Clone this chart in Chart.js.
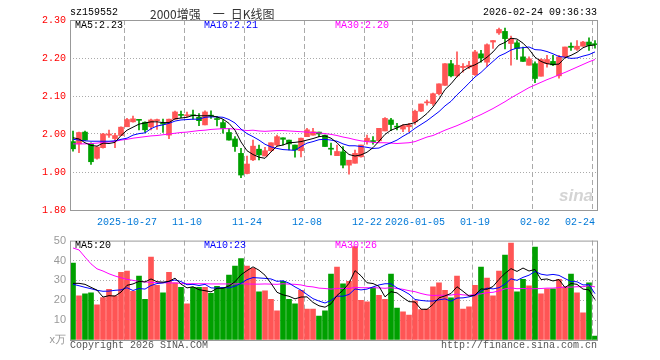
<!DOCTYPE html>
<html>
<head>
<meta charset="utf-8">
<script src="https://cdn.jsdelivr.net/npm/chart.js@4.4.1/dist/chart.umd.min.js"></script>
<style>
body { margin: 0; background: #fff; }
#wrap { position: relative; width: 660px; height: 360px; font-family: "Liberation Mono", monospace; font-size: 10px; }
canvas { position: absolute; left: 0; }
.t { position: absolute; white-space: pre; line-height: 12px; }
</style>
</head>
<body>
<div id="wrap">
  <canvas id="k" width="660" height="230" style="top:0"></canvas>
  <canvas id="v" width="660" height="130" style="top:230px"></canvas>
  <span class="t" style="left:70px;top:7px;color:#000">sz159552</span>
  <span class="t" style="left:150px;top:5px;line-height:14px;font:12px 'Noto Sans CJK SC';color:#333">2000增强&#x3000;一&#x2002;日K线图</span>
  <span class="t" style="right:63px;top:7px;color:#000">2026-02-24 09:36:33</span>
  <span class="t" style="left:75px;top:20px;color:#000">MA5:2.23</span>
  <span class="t" style="left:204px;top:20px;color:#0000ff">MA10:2.21</span>
  <span class="t" style="left:335px;top:20px;color:#ff00ff">MA30:2.20</span>
  <span class="t" style="left:559px;top:186px;font:italic bold 17px 'Liberation Sans';color:#d4d4d4">sina</span>
  <span class="t" style="left:75px;top:240px;color:#000">MA5:20</span>
  <span class="t" style="left:204px;top:240px;color:#0000ff">MA10:23</span>
  <span class="t" style="left:335px;top:240px;color:#ff00ff">MA30:26</span>
  <span class="t" style="left:70px;top:340px;color:#555">Copyright 2026 SINA.COM</span>
  <span class="t" style="right:63px;top:340px;color:#555">http://finance.sina.com.cn</span>
</div>
<script>
// daily bars, 2025-10-14 .. 2026-02-24
const tickIdx = [9, 19, 29, 39, 49, 57, 67, 77, 87];
const tickText = ['2025-10-27', '11-10', '11-24', '12-08', '12-22', '2026-01-05', '01-19', '02-02', '02-24'];

const open = [1.980,1.974,2.005,1.975,1.936,1.964,1.997,1.988,1.996,2.019,
  2.032,2.038,2.031,2.019,2.035,2.028,1.997,2.039,2.050,2.048,
  2.050,2.044,2.024,2.049,2.039,2.030,2.004,1.987,1.949,1.896,
  1.932,1.960,1.942,1.956,1.971,1.990,1.984,1.971,1.956,1.993,
  1.997,2.005,1.997,1.962,1.943,1.953,1.918,1.923,1.940,1.980,
  1.982,1.982,2.008,2.037,2.020,2.013,2.019,2.032,2.060,2.082,
  2.080,2.106,2.128,2.185,2.153,2.175,2.176,2.156,2.211,2.189,
  2.242,2.266,2.270,2.238,2.240,2.203,2.181,2.185,2.152,2.185,
  2.191,2.153,2.203,2.231,2.223,2.231,2.242,2.237];
const high = [2.008,2.005,2.008,1.977,1.967,2.002,2.010,2.002,2.019,2.041,
  2.047,2.038,2.032,2.039,2.039,2.039,2.039,2.060,2.060,2.058,
  2.063,2.054,2.061,2.061,2.046,2.037,2.015,1.993,1.962,1.942,
  1.984,1.971,1.965,1.977,1.997,1.990,1.984,1.971,1.989,2.015,
  2.015,2.005,1.997,1.976,1.971,1.967,1.931,1.958,1.971,1.997,
  1.993,2.015,2.043,2.041,2.028,2.025,2.028,2.063,2.079,2.089,
  2.108,2.132,2.185,2.194,2.216,2.185,2.191,2.220,2.220,2.237,
  2.246,2.279,2.279,2.258,2.246,2.229,2.203,2.190,2.198,2.207,
  2.207,2.207,2.229,2.240,2.246,2.244,2.253,2.246];
const low = [1.955,1.951,1.983,1.920,1.934,1.963,1.991,1.964,1.996,2.019,
  2.031,2.011,2.005,2.011,2.012,2.004,1.988,2.039,2.043,2.045,
  2.039,2.022,2.024,2.041,2.021,2.002,1.984,1.954,1.885,1.895,
  1.930,1.932,1.942,1.954,1.968,1.971,1.958,1.939,1.940,1.993,
  1.997,1.993,1.967,1.945,1.943,1.911,1.894,1.923,1.939,1.973,
  1.973,1.980,2.008,2.009,2.011,2.006,2.006,2.025,2.059,2.076,
  2.075,2.103,2.128,2.150,2.150,2.163,2.172,2.154,2.189,2.178,
  2.225,2.262,2.224,2.181,2.196,2.191,2.181,2.135,2.152,2.176,
  2.180,2.147,2.200,2.220,2.220,2.231,2.220,2.226];
const close = [1.961,2.004,1.984,1.927,1.966,2.000,2.000,1.996,2.018,2.038,
  2.040,2.036,2.011,2.037,2.038,2.026,2.039,2.058,2.049,2.050,
  2.048,2.035,2.058,2.047,2.038,2.015,1.984,1.967,1.892,1.921,
  1.968,1.945,1.956,1.977,1.993,1.986,1.974,1.958,1.989,2.011,
  2.006,2.000,1.967,1.960,1.954,1.918,1.931,1.949,1.971,1.989,
  1.980,2.015,2.041,2.025,2.018,2.022,2.024,2.060,2.079,2.084,
  2.106,2.132,2.185,2.153,2.181,2.178,2.181,2.216,2.200,2.235,
  2.246,2.275,2.251,2.251,2.225,2.191,2.198,2.146,2.196,2.196,
  2.182,2.203,2.229,2.228,2.231,2.242,2.233,2.235];

const ma5 = [1.990,1.987,1.977,1.970,1.968,1.976,1.975,1.978,1.996,2.010,
  2.018,2.026,2.029,2.032,2.032,2.030,2.030,2.040,2.042,2.044,
  2.049,2.048,2.048,2.048,2.045,2.039,2.028,2.010,1.979,1.956,
  1.946,1.939,1.936,1.953,1.968,1.971,1.977,1.978,1.980,1.984,
  1.988,1.993,1.995,1.989,1.977,1.960,1.946,1.942,1.945,1.952,
  1.964,1.981,1.999,2.010,2.016,2.024,2.026,2.030,2.041,2.054,
  2.071,2.092,2.117,2.132,2.151,2.166,2.176,2.182,2.191,2.202,
  2.216,2.234,2.241,2.252,2.250,2.239,2.223,2.202,2.191,2.185,
  2.183,2.184,2.201,2.207,2.215,2.227,2.233,2.234];
const ma10 = [1.986,1.984,1.982,1.981,1.981,1.981,1.981,1.982,1.986,1.989,
  1.997,2.001,2.003,2.014,2.021,2.024,2.028,2.034,2.037,2.038,
  2.039,2.039,2.044,2.045,2.045,2.044,2.038,2.029,2.013,2.001,
  1.993,1.984,1.973,1.966,1.962,1.959,1.958,1.957,1.967,1.976,
  1.980,1.985,1.986,1.984,1.981,1.974,1.969,1.969,1.967,1.965,
  1.962,1.963,1.971,1.977,1.984,1.994,2.003,2.015,2.025,2.035,
  2.047,2.059,2.074,2.086,2.103,2.118,2.134,2.150,2.162,2.177,
  2.191,2.205,2.212,2.221,2.226,2.227,2.229,2.222,2.221,2.217,
  2.211,2.204,2.202,2.199,2.200,2.205,2.209,2.216];
const ma30 = [1.974,1.974,1.974,1.975,1.976,1.978,1.979,1.981,1.984,1.986,
  1.989,1.991,1.993,1.995,1.996,1.998,2.000,2.002,2.004,2.005,
  2.007,2.009,2.010,2.012,2.013,2.014,2.014,2.013,2.011,2.009,
  2.010,2.008,2.007,2.008,2.009,2.009,2.008,2.007,2.006,2.005,
  2.004,2.003,2.001,1.999,1.996,1.992,1.989,1.985,1.982,1.980,
  1.978,1.977,1.977,1.976,1.975,1.976,1.977,1.980,1.986,1.992,
  1.996,2.003,2.010,2.016,2.022,2.029,2.036,2.044,2.051,2.059,
  2.067,2.076,2.085,2.095,2.104,2.113,2.122,2.129,2.136,2.143,
  2.149,2.156,2.162,2.169,2.176,2.183,2.190,2.196];

// volume, 万
const vol = [38.7,22.2,23.2,23.7,17.7,21.3,25.5,22.2,34.0,34.7,
  24.5,32.2,20.5,41.7,27.5,23.7,34.0,28.7,26.5,18.2,
  26.5,26.5,26.5,23.5,27.0,26.3,32.7,37.2,41.0,37.2,
  36.0,24.2,24.7,20.5,14.7,29.5,20.5,18.2,25.0,15.5,
  15.5,12.0,14.7,33.2,36.7,28.2,29.5,47.0,20.0,19.2,
  26.2,22.5,20.5,33.2,16.0,14.2,12.5,19.7,15.3,15.5,
  26.7,28.7,25.0,21.2,32.2,15.5,16.7,27.5,36.7,31.2,
  22.2,34.7,42.7,48.7,24.2,30.5,27.2,46.7,23.2,25.8,
  25.8,30.5,26.7,33.2,23.7,13.7,28.7,2.0];
const vma5 = [28.5,28.5,28.0,26.5,25.1,21.6,22.3,22.1,24.1,27.5,
  28.2,29.5,29.2,30.7,29.3,29.1,29.5,31.1,28.1,26.2,
  26.8,25.3,24.8,24.2,26.0,26.0,27.2,29.3,32.8,34.9,
  36.8,35.1,32.6,28.5,24.0,22.7,22.0,20.7,21.6,21.7,
  18.9,17.2,16.5,18.2,22.4,25.0,28.5,34.9,32.3,28.8,
  28.4,27.0,21.7,24.3,23.7,21.3,19.3,19.1,15.5,15.4,
  17.9,21.2,22.2,23.4,26.8,24.5,22.1,22.6,25.7,25.5,
  26.9,30.5,33.5,35.9,34.5,36.2,34.7,35.5,30.4,30.7,
  29.7,30.4,26.4,28.4,28.0,25.6,25.2,20.3];
const vma10 = [28.0,27.3,26.5,25.8,25.0,24.5,24.6,25.0,25.2,26.3,
  24.9,25.9,25.6,27.4,28.4,28.7,29.5,30.2,29.4,27.8,
  28.0,27.4,28.0,26.2,26.1,26.4,26.2,27.1,28.5,30.4,
  31.4,31.2,31.0,30.7,29.5,29.8,28.6,26.7,25.1,22.9,
  20.8,19.6,18.6,19.9,22.1,22.0,22.9,25.7,25.2,25.6,
  26.7,27.7,28.3,28.3,26.2,24.8,23.1,20.4,19.9,19.6,
  19.6,20.2,20.7,19.5,21.1,21.2,21.7,22.4,24.6,26.1,
  25.7,26.3,28.1,30.8,30.0,31.5,32.6,34.5,33.1,32.6,
  33.0,32.5,30.9,29.4,29.3,27.7,27.8,23.3];
const vma30 = [46.3,45.3,41.7,38.3,35.8,34.7,33.3,32.2,31.3,30.5,
  30.0,29.5,29.2,29.0,28.8,28.8,28.7,28.7,28.5,28.3,
  28.3,28.3,28.3,28.2,28.2,28.2,28.2,28.2,28.3,28.2,
  28.1,28.1,28.2,28.1,28.0,28.3,28.1,28.0,27.7,27.0,
  26.7,26.1,25.9,25.6,25.9,26.0,25.9,26.5,26.3,26.3,
  26.3,26.2,26.0,26.3,25.9,25.5,24.8,24.3,23.4,22.7,
  22.4,22.5,22.5,22.6,23.1,22.7,22.5,22.9,23.2,23.8,
  24.0,24.7,25.7,26.2,25.8,25.9,25.8,25.8,25.9,26.1,
  26.1,26.4,26.6,26.6,26.8,26.8,27.3,26.7];

const RED = '#ff5555', GREEN = '#00a000';
const labels = close.map((c, i) => i);
const colors = close.map((c, i) => c >= open[i] ? RED : GREEN);
const mono = { family: 'Liberation Mono', size: 10 };

// grey frame round the plot area
const frame = {
  id: 'frame',
  afterDraw(chart) {
    const { ctx, chartArea: a } = chart;
    ctx.save();
    ctx.strokeStyle = '#999';
    ctx.lineWidth = 1;
    ctx.strokeRect(a.left + 0.5, a.top + 0.5, a.right - a.left - 1, a.bottom - a.top);
    ctx.restore();
  }
};

function maLine(data, color, order) {
  return { type: 'line', data: data, borderColor: color, borderWidth: 1, pointRadius: 0, tension: 0, order: order };
}

function xScale(showLabels) {
  return {
    offset: true,
    grid: {
      offset: true,
      drawTicks: false,
      color: c => tickIdx.includes(c.index) ? '#aaa' : 'rgba(0,0,0,0)'
    },
    border: { display: false, dash: [5, 3] },
    ticks: {
      display: showLabels,
      autoSkip: false,
      maxRotation: 0,
      minRotation: 0,
      align: 'inner',
      padding: 6,
      color: '#0078d7',
      font: mono,
      callback: (v, i) => {
        const k = tickIdx.indexOf(i);
        return k >= 0 ? tickText[k] : '';
      }
    },
    afterFit: s => { s.height = 20; }
  };
}

const common = {
  responsive: false,
  animation: false,
  plugins: { legend: { display: false }, tooltip: { enabled: false } }
};

new Chart(document.getElementById('k'), {
  type: 'bar',
  data: {
    labels: labels,
    datasets: [
      maLine(ma5, '#000000', 0),
      maLine(ma10, '#0000ff', 1),
      maLine(ma30, '#ff00ff', 2),
      {
        data: open.map((o, i) => [Math.min(o, close[i]), Math.max(o, close[i])]),
        backgroundColor: colors, barThickness: 5, minBarLength: 1, grouped: false, order: 3
      },
      {
        data: low.map((l, i) => [l, high[i]]),
        backgroundColor: colors, barThickness: 1, grouped: false, order: 4
      }
    ]
  },
  options: Object.assign({}, common, {
    layout: { padding: { left: 0, right: 62, top: 20, bottom: 0 } },
    scales: {
      x: xScale(true),
      y: {
        min: 1.8,
        max: 2.3,
        ticks: { stepSize: 0.1, color: '#ff0000', font: mono, padding: 4, callback: v => v.toFixed(2) },
        grid: { drawTicks: false, color: c => (c.tick && c.tick.value > 1.81 && c.tick.value < 2.29) ? '#aaa' : 'rgba(0,0,0,0)' },
        border: { display: false, dash: [1, 2] },
        afterFit: s => { s.width = 70; }
      }
    }
  }),
  plugins: [frame]
});

new Chart(document.getElementById('v'), {
  type: 'bar',
  data: {
    labels: labels,
    datasets: [
      maLine(vma5, '#000000', 0),
      maLine(vma10, '#0000ff', 1),
      maLine(vma30, '#ff00ff', 2),
      { data: vol, backgroundColor: colors, barThickness: 5, order: 3 }
    ]
  },
  options: Object.assign({}, common, {
    layout: { padding: { left: 0, right: 62, top: 10, bottom: 0 } },
    scales: {
      x: xScale(false),
      y: {
        min: 0,
        max: 50,
        ticks: {
          stepSize: 10, color: '#999', padding: 4,
          font: { family: 'Liberation Sans', size: 11 },
          callback: v => v === 0 ? 'x万' : v
        },
        grid: { drawTicks: false, color: c => (c.tick && c.tick.value > 0 && c.tick.value < 50) ? '#aaa' : 'rgba(0,0,0,0)' },
        border: { display: false, dash: [1, 2] },
        afterFit: s => { s.width = 70; }
      }
    }
  }),
  plugins: [frame]
});
</script>
</body>
</html>
